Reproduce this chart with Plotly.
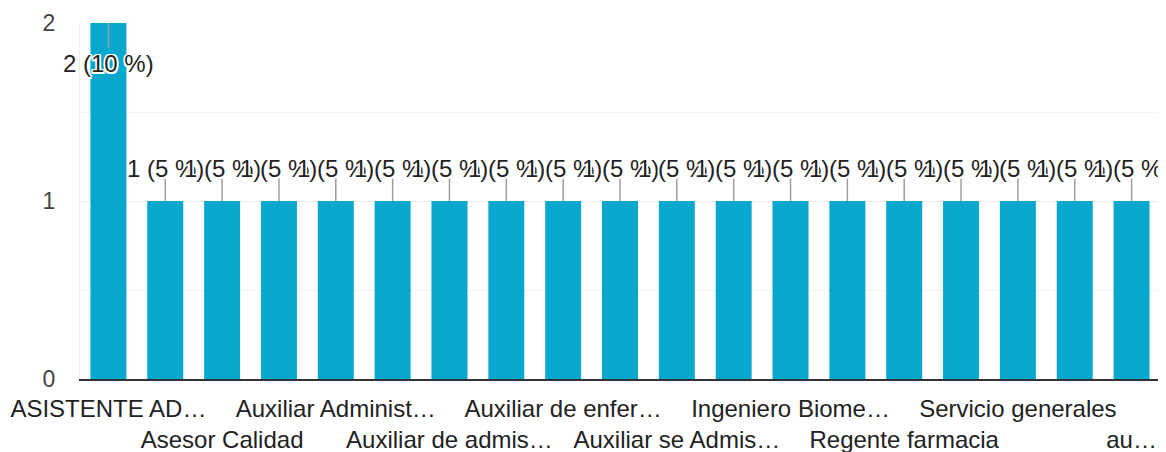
import plotly.graph_objects as go

# ---- data ----
values = [2, 1, 1, 1, 1, 1, 1, 1, 1, 1, 1, 1, 1, 1, 1, 1, 1, 1, 1]
tick_labels = [
    "ASISTENTE AD…", "Asesor Calidad", "Auxiliar Administ…", "Auxiliar de admis…",
    "Auxiliar de enfer…", "Auxiliar se Admis…", "Ingeniero Biome…", "Regente farmacia",
    "Servicio generales", "au…",
]
y_ticks = [0, 1, 2]

# ---- styling ----
BAR = "#08a7ce"
FONT = "Arial, Liberation Sans, sans-serif"
total = sum(values)
x = list(range(len(values)))
vmax = max(values)

fig = go.Figure(go.Bar(x=x, y=values, marker=dict(color=BAR, line=dict(width=0)),
                       hoverinfo="skip"))

halo = ("-1.5px -1.5px 0 #fff, 1.5px -1.5px 0 #fff, -1.5px 1.5px 0 #fff, 1.5px 1.5px 0 #fff,"
        " 0 1.5px 0 #fff, 0 -1.5px 0 #fff, 1.5px 0 0 #fff, -1.5px 0 0 #fff")

shapes = []
annotations = []
for xi, v in zip(x, values):
    pct = round(v / total * 100)
    below = v == vmax
    shapes.append(dict(type="line", xref="x", yref="y", ysizemode="pixel", yanchor=v,
                       x0=xi, x1=xi, y0=0, y1=(-25 if below else 23),
                       line=dict(color="#9e9e9e", width=1.5), layer="above"))
    annotations.append(dict(x=xi, y=v, xref="x", yref="y", showarrow=False,
                            text=f"{v} ({pct} %)", yshift=(-40 if below else 33),
                            font=dict(family=FONT, size=24, color="#222", shadow=halo)))

ticktext = [("<br>" + t) if i % 2 else t for i, t in enumerate(tick_labels)]
tickvals = x[::2]

# note: the page body adds an 8px offset, margins compensate for it
fig.update_layout(
    width=1166, height=452,
    margin=dict(l=72, r=14, t=15, b=81),
    paper_bgcolor="white", plot_bgcolor="white",
    bargap=0.367, showlegend=False,
    shapes=shapes, annotations=annotations,
    font=dict(family=FONT, color="#222"),
    xaxis=dict(range=[-0.5, len(values) - 0.5], tickvals=tickvals, ticktext=ticktext,
               tickangle=0, showgrid=False, zeroline=False, ticks="", automargin=False,
               showline=True, linecolor="#333", linewidth=2, ticklabelstandoff=7,
               tickfont=dict(family=FONT, size=24, color="#222")),
    yaxis=dict(range=[0, 2], tickvals=y_ticks, ticks="", zeroline=False, automargin=False,
               showgrid=True, gridcolor="#ececec", gridwidth=1,
               minor=dict(dtick=0.5, showgrid=True, gridcolor="#f3f3f3"),
               showline=True, linecolor="#ececec", linewidth=1, mirror=True,
               ticklabelstandoff=19,
               tickfont=dict(family=FONT, size=23, color="#444")),
)

fig.write_html("out.html")
